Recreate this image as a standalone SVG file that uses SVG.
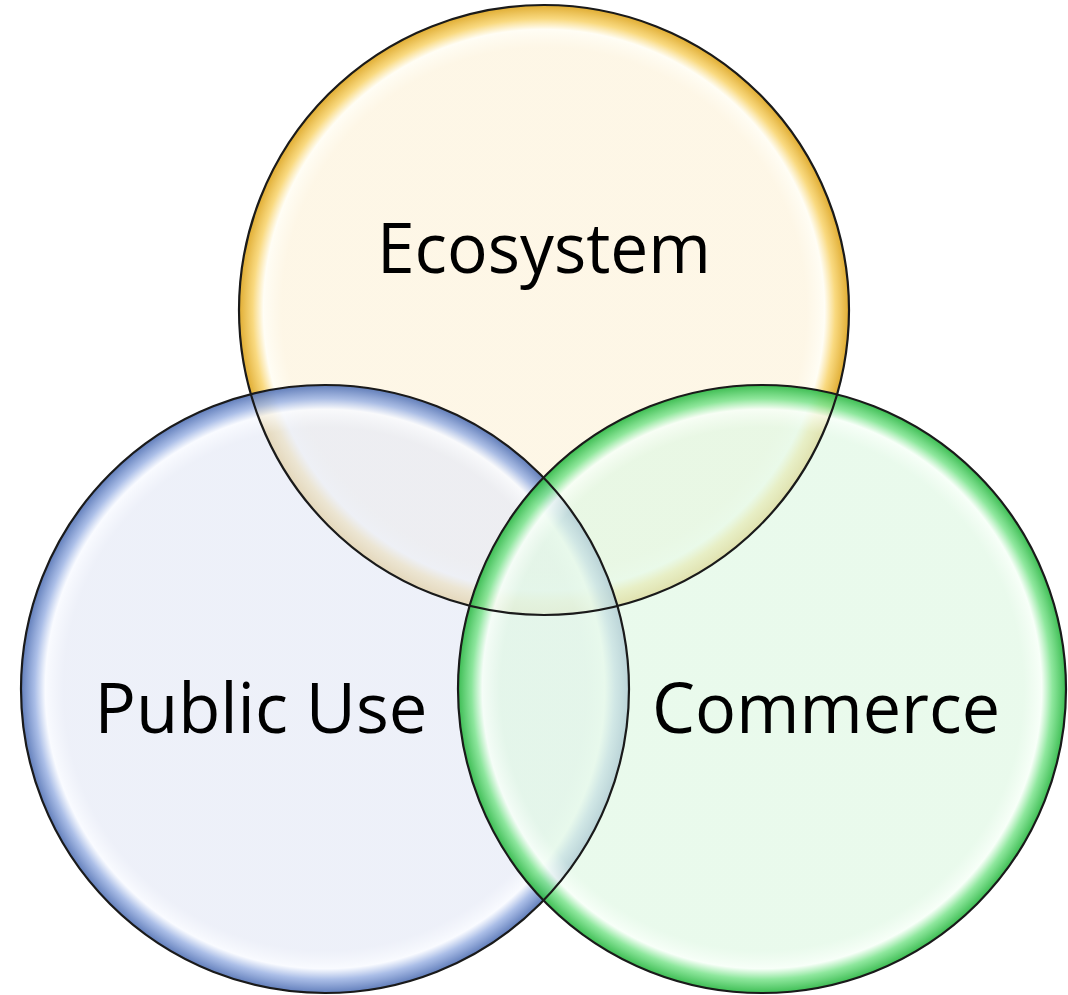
<svg xmlns="http://www.w3.org/2000/svg" width="1068" height="995" viewBox="0 0 1068 995">
<style>
.ring{stroke:none}
.edge{fill:none;stroke:#1a1a1a;stroke-width:2.2}
.lbl{font-family:"Open Sans","Noto Sans","Liberation Sans",sans-serif;font-size:70px;fill:#000;text-anchor:middle}
</style>
<defs>
<radialGradient id="gEco">
<stop offset="0" stop-color="#FDF3DC" stop-opacity="0.7"/>
<stop offset="0.86" stop-color="#FDF3DC" stop-opacity="0.7"/>
<stop offset="0.92" stop-color="#FFFDF3" stop-opacity="0.85"/>
<stop offset="0.955" stop-color="#F8D46E" stop-opacity="0.88"/>
<stop offset="1" stop-color="#DDA520" stop-opacity="0.92"/>
</radialGradient>
<radialGradient id="gPub">
<stop offset="0" stop-color="#E6EAF6" stop-opacity="0.7"/>
<stop offset="0.86" stop-color="#E6EAF6" stop-opacity="0.7"/>
<stop offset="0.92" stop-color="#F8FAFF" stop-opacity="0.85"/>
<stop offset="0.955" stop-color="#9FB5E4" stop-opacity="0.88"/>
<stop offset="1" stop-color="#5473B5" stop-opacity="0.92"/>
</radialGradient>
<radialGradient id="gCom">
<stop offset="0" stop-color="#E0F8E4" stop-opacity="0.7"/>
<stop offset="0.86" stop-color="#E0F8E4" stop-opacity="0.7"/>
<stop offset="0.92" stop-color="#F6FFF7" stop-opacity="0.85"/>
<stop offset="0.955" stop-color="#7FE490" stop-opacity="0.88"/>
<stop offset="1" stop-color="#2DB845" stop-opacity="0.92"/>
</radialGradient>
</defs>
<g id="ecosystem">
<circle class="ring" cx="544" cy="310" r="305" fill="url(#gEco)"/>
<text class="lbl" x="544" y="273" textLength="334" lengthAdjust="spacingAndGlyphs">Ecosystem</text>
</g>
<g id="public-use">
<circle class="ring" cx="325" cy="689" r="304" fill="url(#gPub)"/>
<text class="lbl" x="261" y="733" textLength="333" lengthAdjust="spacingAndGlyphs">Public Use</text>
</g>
<g id="commerce">
<circle class="ring" cx="762" cy="689" r="304" fill="url(#gCom)"/>
<text class="lbl" x="826" y="733" textLength="348" lengthAdjust="spacingAndGlyphs">Commerce</text>
</g>
<g id="outlines">
<circle class="edge" cx="544" cy="310" r="305"/>
<circle class="edge" cx="325" cy="689" r="304"/>
<circle class="edge" cx="762" cy="689" r="304"/>
</g>
<g id="connectors"/>
</svg>
